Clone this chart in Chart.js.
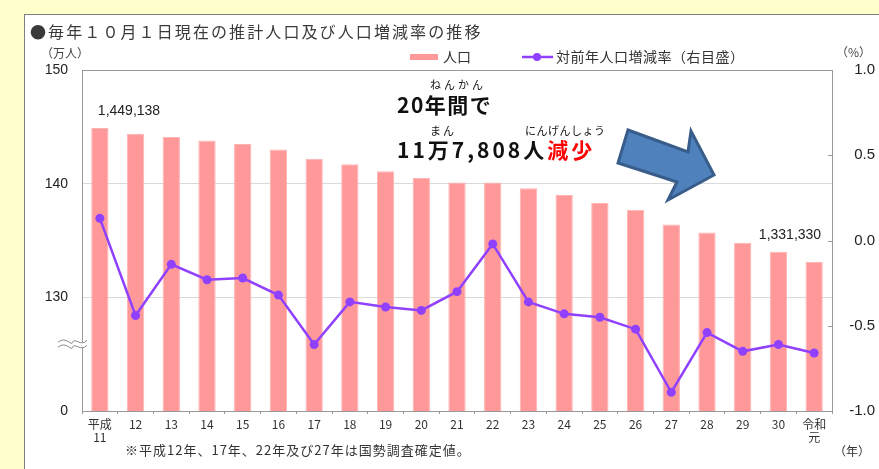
<!DOCTYPE html>
<html>
<head>
<meta charset="utf-8">
<script src="https://cdn.jsdelivr.net/npm/chart.js@4.4.1/dist/chart.umd.min.js"></script>
<style>
html, body { margin: 0; padding: 0; width: 879px; height: 469px; overflow: hidden; background: #ffffcc; }
#panel { position: absolute; left: 24px; top: 14px; width: 900px; height: 500px; background: #fff; border: 1px solid #808080; }
#chart { position: absolute; left: 0; top: 0; }
.t { position: absolute; font-family: "Noto Sans CJK JP", sans-serif; white-space: nowrap; line-height: 1; color: #333; }
.big { font-weight: bold; font-size: 21px; letter-spacing: 3px; color: #111; }
.ruby { font-size: 11px; color: #111; }
#arrow { position: absolute; left: 0; top: 0; }
</style>
</head>
<body>
<div id="panel"></div>
<canvas id="chart" width="879" height="469"></canvas>
<svg id="arrow" width="879" height="469">
  <polygon points="628,130 688,152 691,131 714,175 668,200 677,182 618,163"
           fill="#4f81bd" stroke="#385d8a" stroke-width="3" stroke-linejoin="miter"/>
</svg>

<div class="t" style="left:30px;top:23px;font-size:16px;letter-spacing:2.1px;color:#3a3a3a;">●毎年１０月１日現在の推計人口及び人口増減率の推移</div>
<div class="t" style="left:41px;top:47px;font-size:12px;color:#444;">（万人）</div>
<div class="t" style="left:836px;top:46px;font-size:12px;color:#444;">（%）</div>

<div class="t ruby" style="left:430px;top:79px;letter-spacing:3px;">ねんかん</div>
<div class="t big" style="left:397px;top:94px;letter-spacing:1.5px;">20年間で</div>
<div class="t ruby" style="left:430px;top:125px;letter-spacing:2px;">まん</div>
<div class="t ruby" style="left:525px;top:125px;letter-spacing:0.5px;">にんげんしょう</div>
<div class="t big" style="left:397px;top:139px;">11万7,808人<span style="color:#ff0000">減少</span></div>

<div class="t" style="left:125px;top:443px;font-size:13px;letter-spacing:1px;">※平成12年、17年、22年及び27年は国勢調査確定値。</div>
<div class="t" style="left:834px;top:445px;font-size:12px;">（年）</div>

<script>
const years = [['平成', '11'], '12', '13', '14', '15', '16', '17', '18', '19', '20',
    '21', '22', '23', '24', '25', '26', '27', '28', '29', '30', ['令和', '元']];

// 人口（万人）
const population = [144.9, 144.4, 144.1, 143.8, 143.5, 143.0, 142.2, 141.7, 141.1, 140.5,
    140.1, 140.1, 139.6, 139.0, 138.3, 137.7, 136.4, 135.7, 134.8, 134.0, 133.1];

// 対前年人口増減率（%）
const changeRate = [0.13, -0.44, -0.14, -0.23, -0.22, -0.32, -0.61, -0.36, -0.39, -0.41,
    -0.30, -0.02, -0.36, -0.43, -0.45, -0.52, -0.89, -0.54, -0.65, -0.61, -0.66];

// 省略された軸: 120 を "0" として表示
const leftTicks = [120, 130, 140, 150];
const leftTickText = ['0', '130', '140', '150'];
const rightTicks = [-1.0, -0.5, 0.0, 0.5, 1.0];

const valueLabelIdx = [0, 20];
const valueLabelText = ['1,449,138', '1,331,330'];

const BAR = '#ff9999';
const LINE = '#9040ff';
const NUM_FONT = '"Liberation Sans", Arial, sans-serif';
const JP_FONT = '"Noto Sans CJK JP", sans-serif';

const extras = {
    id: 'extras',
    afterDatasetsDraw(chart) {
        const ctx = chart.ctx;
        const area = chart.chartArea;
        const bars = chart.getDatasetMeta(1).data;
        ctx.save();

        // value labels on first and last bar
        ctx.font = '14px ' + NUM_FONT;
        ctx.fillStyle = '#222';
        ctx.textBaseline = 'middle';
        let b = bars[valueLabelIdx[0]];
        ctx.textAlign = 'left';
        ctx.fillText(valueLabelText[0], b.x - 2, b.y - 17);
        b = bars[valueLabelIdx[1]];
        ctx.textAlign = 'right';
        ctx.fillText(valueLabelText[1], b.x + 7, b.y - 27);

        // inward ticks on right axis
        ctx.strokeStyle = '#999';
        ctx.lineWidth = 1;
        chart.scales.y1.ticks.forEach(t => {
            const y = Math.round(chart.scales.y1.getPixelForValue(t.value)) + 0.5;
            ctx.beginPath();
            ctx.moveTo(area.right - 4, y);
            ctx.lineTo(area.right, y);
            ctx.stroke();
        });

        // axis break mark
        const by = chart.scales.y.getPixelForValue(125.7);
        const x0 = area.left - 24, x1 = area.left + 5;
        const wave = (off) => {
            ctx.moveTo(x0, by + off);
            ctx.bezierCurveTo(x0 + 8, by + off - 7, x0 + 14, by + off + 5, (x0 + x1) / 2, by + off);
            ctx.bezierCurveTo(x1 - 12, by + off - 5, x1 - 6, by + off + 5, x1, by + off - 2);
        };
        ctx.fillStyle = '#fff';
        ctx.fillRect(area.left - 2, by - 4, 4, 5);
        ctx.strokeStyle = '#888';
        ctx.beginPath();
        wave(-4);
        wave(1);
        ctx.stroke();

        // legend
        ctx.font = '14px ' + JP_FONT;
        ctx.textAlign = 'left';
        ctx.fillStyle = BAR;
        ctx.fillRect(410, 54, 28, 6);
        ctx.fillStyle = '#333';
        ctx.fillText(chart.data.datasets[1].label, 443, 57);
        ctx.strokeStyle = LINE;
        ctx.lineWidth = 2.5;
        ctx.beginPath();
        ctx.moveTo(522, 57);
        ctx.lineTo(553, 57);
        ctx.stroke();
        ctx.fillStyle = LINE;
        ctx.beginPath();
        ctx.arc(537, 57, 4, 0, Math.PI * 2);
        ctx.fill();
        ctx.fillStyle = '#333';
        ctx.letterSpacing = '0.5px';
        ctx.fillText(chart.data.datasets[0].label, 556, 57);
        ctx.restore();
    }
};

new Chart(document.getElementById('chart'), {
    data: {
        labels: years,
        datasets: [
            {
                type: 'line',
                label: '対前年人口増減率（右目盛）',
                data: changeRate,
                yAxisID: 'y1',
                borderColor: LINE,
                backgroundColor: LINE,
                borderWidth: 2.5,
                pointRadius: 4.5,
                pointBackgroundColor: LINE,
                pointBorderWidth: 0,
                tension: 0,
                order: 0
            },
            {
                type: 'bar',
                label: '人口',
                data: population,
                yAxisID: 'y',
                backgroundColor: BAR,
                borderColor: '#ffb3b3',
                borderWidth: 1,
                barPercentage: 0.97,
                categoryPercentage: 0.5,
                order: 1
            }
        ]
    },
    options: {
        responsive: false,
        animation: false,
        layout: { padding: { left: 0, right: 4, top: 70, bottom: 0 } },
        plugins: {
            legend: { display: false },
            tooltip: { enabled: false }
        },
        scales: {
            x: {
                offset: true,
                grid: { offset: true, drawOnChartArea: false, tickLength: 3, color: '#999' },
                border: { color: '#999' },
                ticks: {
                    color: '#333',
                    padding: 4,
                    maxRotation: 0,
                    autoSkip: false,
                    font: { family: JP_FONT, size: 12, lineHeight: 1.1 }
                },
                afterFit(scale) { scale.height = 58; }
            },
            y: {
                position: 'left',
                min: leftTicks[0],
                max: leftTicks[leftTicks.length - 1],
                afterBuildTicks(scale) { scale.ticks = leftTicks.map(v => ({ value: v })); },
                grid: {
                    drawTicks: false,
                    color: ctx => ctx.tick.value === 150 ? '#999' : (ctx.tick.value === 120 ? 'rgba(0,0,0,0)' : '#d9d9d9')
                },
                border: { color: '#999' },
                ticks: {
                    padding: 14,
                    color: '#222',
                    font: { family: NUM_FONT, size: 14 },
                    callback: (v) => leftTickText[leftTicks.indexOf(v)]
                },
                afterFit(scale) { scale.width = 82; }
            },
            y1: {
                position: 'right',
                min: -1,
                max: 1,
                afterBuildTicks(scale) { scale.ticks = rightTicks.map(v => ({ value: v })); },
                grid: { drawOnChartArea: false, drawTicks: false },
                border: { color: '#999' },
                ticks: {
                    crossAlign: 'far',
                    color: '#222',
                    font: { family: NUM_FONT, size: 15 },
                    callback: v => v.toFixed(1)
                },
                afterFit(scale) { scale.width = 43; }
            }
        }
    },
    plugins: [extras]
});
</script>
</body>
</html>
